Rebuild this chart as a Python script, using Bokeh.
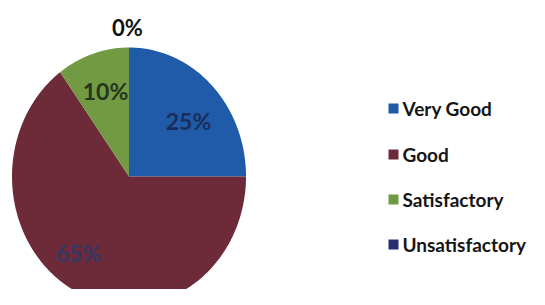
import numpy as np
from bokeh.plotting import figure
from bokeh.models import Range1d, ColumnDataSource
from bokeh.core.properties import value
from bokeh.embed import file_html
from bokeh.resources import INLINE

# ---- data ----
categories = ["Very Good", "Good", "Satisfactory", "Unsatisfactory"]
percentages = [25, 65, 10, 0]
slice_colors = ["#1f5ba8", "#6d2a38", "#719a42", "#27306f"]
label_colors = ["#1c2d5c", "#343864", "#26351f", "#111111"]

# ---- layout constants (picture pixel coordinates) ----
W, H = 529, 289
cx, cy, rx, ry = 128.5, 176.0, 117.0, 129.0
label_pos = [(188, 120), (78, 252), (105, 90), (127, 27)]
legend_x, legend_text_x = 393, 402
legend_y = [108, 154, 199, 244]

p = figure(width=W, height=H, output_backend="svg", toolbar_location=None,
           x_range=Range1d(0, W), y_range=Range1d(H, 0),
           min_border=0)
p.axis.visible = False
p.grid.visible = False
p.outline_line_color = None
p.background_fill_color = "white"
p.border_fill_color = "white"

# slices as elliptical patches (pie is slightly taller than wide)
total = float(sum(percentages))
xs, ys, cols = [], [], []
start = 0.0
for v, c in zip(percentages, slice_colors):
    if v <= 0:
        continue
    a0 = start / total * 2 * np.pi
    a1 = (start + v) / total * 2 * np.pi
    t = np.linspace(a0, a1, max(4, int(v * 4)))
    px = np.concatenate([[cx], cx + rx * np.sin(t)])
    py = np.concatenate([[cy], cy - ry * np.cos(t)])
    xs.append(px.tolist()); ys.append(py.tolist()); cols.append(c)
    start += v
p.patches(xs=xs, ys=ys, fill_color=cols, line_color=None)

# percentage labels
lbl = ColumnDataSource(dict(
    x=[q[0] for q in label_pos[:3]], y=[q[1] for q in label_pos[:3]],
    text=[f"{v}%" for v in percentages[:3]], color=label_colors[:3]))
p.text(x="x", y="y", text="text", source=lbl, text_color="color",
       text_font=value("Lato"), text_font_style="bold", text_font_size="23px",
       text_align="center", text_baseline="middle")
p.text(x=[label_pos[3][0]], y=[label_pos[3][1]], text=[f"{percentages[3]}%"],
       text_color="#111111", text_font=value("Lato"), text_font_style="bold",
       text_font_size="22px", text_align="center", text_baseline="middle")

# legend
p.scatter(x=[legend_x] * 4, y=legend_y, marker="square", size=10,
          fill_color=slice_colors, line_color=None)
p.text(x=[legend_text_x] * 4, y=legend_y, text=categories,
       text_color="#151515", text_font=value("Lato"), text_font_style="bold",
       text_font_size="19px", text_align="left", text_baseline="middle")

open("out.html", "w").write(file_html(p, INLINE))
